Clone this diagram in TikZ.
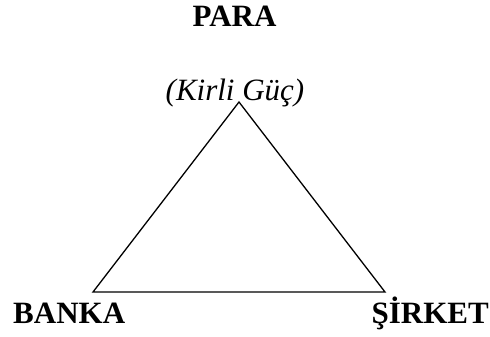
\documentclass[tikz,border=0pt]{standalone}
\usepackage{fontspec}
\setmainfont{Liberation Serif}
\begin{document}
\begin{tikzpicture}[x=1pt,y=-1pt,
  lbl/.style={font=\fontsize{31}{36}\selectfont\bfseries, inner sep=0pt, anchor=base},
  sub/.style={font=\fontsize{31}{36}\selectfont\itshape, inner sep=0pt, anchor=base},
  edge/.style={draw=black, line width=1.3pt}]
\useasboundingbox (0,0) rectangle (490,337);
\node[lbl] (para) at (234.5,27) {PARA};
\node[sub] (kirli) at (235,100) {(Kirli Güç)};
\node[lbl, anchor=base west] (banka) at (13,323) {BANKA};
\node[lbl, anchor=base east] (sirket) at (489,323) {ŞİRKET};
\coordinate (top) at (239,102);
\coordinate (bl) at (93,292);
\coordinate (br) at (385,292);
\draw[edge, line join=miter] (top) -- (bl) -- (br) -- cycle;
\end{tikzpicture}
\end{document}
